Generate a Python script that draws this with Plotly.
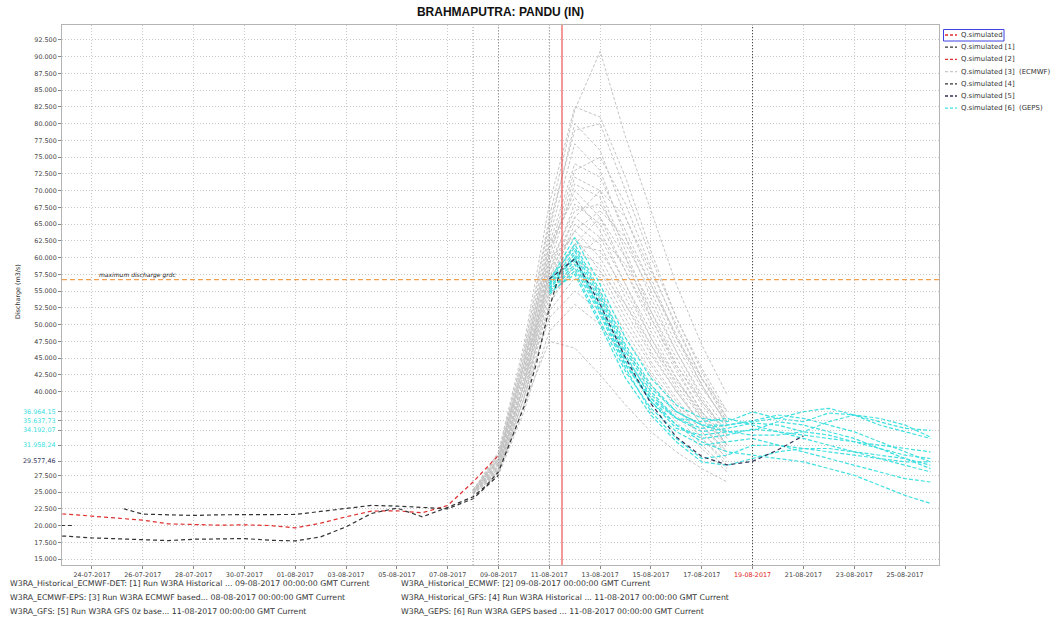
import pandas as pd
import plotly.graph_objects as go

TITLE = "BRAHMAPUTRA: PANDU (IN)"
Y_TITLE = "Discharge (m3/s)"
MAX_LABEL = "maximum discharge grdc"
MAX_DISCHARGE = 56700

# ---- historical runs -------------------------------------------------------
hist2_dates = pd.date_range("2017-07-22", "2017-08-09", freq="D")
hist2_values = [21800, 21700, 21400, 21100, 20800, 20250, 20100, 20050, 20100, 20000,
                19650, 20350, 21300, 22150, 22200, 21900, 23000, 26500, 30500]

hist1_dates = ["2017-07-22 12:00", "2017-07-23 06:00", "2017-07-24 06:00", "2017-07-25 06:00"] + \
    [d.strftime("%Y-%m-%d") for d in pd.date_range("2017-07-26", "2017-08-09", freq="D")]
hist1_values = [20000, 20000, None, 22500,
                21700, 21600, 21500, 21600, 21600, 21650, 21650, 22100, 22600, 23000,
                22900, 22700, 22500, 24000, 27500]

hist4_dates = [d.strftime("%Y-%m-%d") for d in pd.date_range("2017-07-22", "2017-08-08", freq="D")] + \
    ["2017-08-08 12:00", "2017-08-09 00:00", "2017-08-09 12:00", "2017-08-10 00:00",
     "2017-08-10 12:00", "2017-08-11 00:00", "2017-08-11 12:00"]
hist4_values = [18500, 18400, 18150, 18000, 17800, 17750, 17950, 18000, 18050, 17800,
                17700, 18300, 19800, 21800, 22600, 21300, 22700, 24300,
                25900, 28000, 32800, 37700, 44300, 52500, 58800]

# ---- GFS deterministic forecast [5] ---------------------------------------
gfs_dates = pd.date_range("2017-08-11", "2017-08-21", freq="D")
gfs_values = [56800, 59800, 53000, 45000, 38200, 33200, 30300, 29050, 29577.46, 31300, 33400]

# ---- ECMWF ensemble [3] ----------------------------------------------------
eps_dates = pd.date_range("2017-08-08", "2017-08-18", freq="D")
eps_members = [
    [25000, 30500, 46000, 66000, 82000, 90800, 78000, 67000, 56000, 47000, 39500],
    [25200, 31000, 47000, 68000, 82500, 81000, 72000, 61000, 51000, 43000, 36000],
    [24800, 30000, 45000, 64000, 80000, 76000, 66000, 57000, 48000, 41000, 35000],
    [25100, 29500, 44000, 63000, 77000, 73000, 63000, 54000, 46000, 39000, 33500],
    [25300, 30000, 45000, 62000, 74000, 72000, 64000, 56000, 48000, 42000, 37000],
    [24900, 29000, 42000, 60000, 72000, 70000, 61000, 52000, 44000, 38000, 33000],
    [25000, 29500, 43000, 61000, 70000, 66000, 58000, 50000, 43000, 37000, 32000],
    [25200, 30000, 44000, 62000, 69000, 64000, 56000, 48000, 41000, 36000, 31500],
    [24700, 28500, 41000, 58000, 68000, 65000, 58000, 51000, 44000, 38500, 34000],
    [25000, 29000, 42000, 59000, 67000, 68000, 62000, 55000, 47000, 40500, 35500],
    [25100, 28800, 41000, 57000, 66000, 63000, 56000, 49000, 42000, 36500, 32000],
    [24800, 28200, 40000, 56000, 65000, 62000, 54000, 47000, 40500, 35000, 31000],
    [25000, 29300, 42000, 58000, 64000, 60000, 53000, 46000, 40000, 35000, 30500],
    [25400, 30200, 44000, 60000, 63000, 58000, 51000, 44500, 39000, 34000, 30000],
    [24600, 28000, 39000, 55000, 62000, 61000, 55000, 48000, 42000, 36000, 32000],
    [25000, 28600, 40000, 54000, 61000, 59000, 52000, 45500, 40000, 35000, 31000],
    [25200, 29000, 41000, 56000, 60000, 57000, 50000, 44000, 38500, 34000, 30000],
    [24900, 28400, 40000, 53000, 59000, 58000, 53000, 47000, 41500, 37000, 33000],
    [25100, 28900, 41000, 55000, 58000, 55000, 49000, 43000, 38000, 33000, 29500],
    [24700, 27800, 38000, 52000, 57000, 54000, 48000, 42500, 37500, 33000, 29000],
    [25000, 28100, 39000, 51000, 55000, 52000, 46000, 41000, 36500, 32000, 28500],
    [24800, 27500, 37000, 49000, 53000, 50000, 45000, 40000, 35500, 31500, 28000],
    [25300, 29700, 43000, 57000, 62000, 66000, 60000, 53000, 46000, 39500, 34500],
    [25000, 29100, 42000, 58000, 66000, 70000, 66000, 58000, 50000, 42000, 36000],
    [24900, 28000, 38000, 47500, 46500, 42500, 38000, 34000, 31000, 28500, 26500],
    [25100, 29400, 43000, 59000, 71000, 69000, 60000, 51000, 43500, 37000, 32000],
    [25200, 30600, 46000, 65000, 79000, 80000, 70000, 60000, 51000, 43500, 37000],
    [24800, 28700, 41000, 57000, 64000, 67000, 63000, 56000, 48500, 41000, 35000],
    [25000, 29800, 44000, 61000, 73000, 75000, 68000, 58500, 49500, 42000, 35500],
    [25100, 28300, 39000, 53000, 60000, 63000, 59000, 52000, 45000, 38500, 33500],
]

# ---- GEPS ensemble [6] -----------------------------------------------------
geps_dates = pd.date_range("2017-08-11", "2017-08-26", freq="D")
geps_members = [
    [56500, 63000, 56000, 48000, 42000, 38000, 36000, 35500, 36964.15, 36000, 35500, 36800, 36500, 35500, 34500, 34200],
    [56000, 61000, 54000, 46000, 40000, 36000, 34000, 34500, 35300, 35000, 34000, 33500, 32500, 31500, 30500, 30000],
    [55500, 60000, 53000, 45000, 39500, 36000, 34500, 35000, 35637.73, 36500, 36000, 35000, 34000, 32500, 31000, 29500],
    [55000, 59000, 52000, 44000, 38500, 35000, 33000, 33500, 34400, 34000, 33000, 32000, 31000, 30000, 29000, 28000],
    [56200, 62000, 55000, 47000, 41000, 37000, 35000, 34000, 33500, 33500, 34000, 35500, 36500, 36000, 35000, 33200],
    [54500, 58000, 50500, 43000, 37500, 34000, 32000, 32500, 33000, 32000, 31000, 30000, 29000, 28000, 27000, 26500],
    [55800, 60500, 53500, 45500, 39000, 35000, 32500, 31000, 30500, 30000, 29500, 28500, 27500, 26000, 24500, 23300],
    [55000, 58500, 51500, 43500, 37000, 33000, 30000, 30500, 31958.24, 32000, 31500, 31000, 30500, 30000, 29500, 29500],
    [56800, 61500, 54500, 46500, 40500, 37000, 35000, 35000, 35500, 36000, 37000, 37500, 36500, 35000, 34000, 33000],
    [55300, 59500, 52500, 44500, 38500, 34500, 33500, 34000, 34192.07, 35500, 35000, 34000, 33000, 31500, 30000, 28500],
    [54800, 57500, 50000, 42000, 36500, 32500, 29500, 29000, 30000, 31000, 31500, 31500, 31000, 30500, 30000, 29000],
    [56000, 60000, 52000, 44000, 39000, 36000, 35500, 36000, 35000, 34000, 33500, 33000, 32500, 32000, 31500, 31000],
]
# indices of GEPS members whose 19-08 value is labelled at the axis
geps_labelled = [0, 2, 9, 7]

# ---- reference times ------------------------------------------------------
NOW = "2017-08-11 12:00"
CURSOR = "2017-08-19"
RUN_T0S = ["2017-08-08", "2017-08-09", "2017-08-11"]
CURSOR_INDEX_GEPS = 8
CURSOR_INDEX_GFS = 8

legend_labels = ["Q.simulated", "Q.simulated [1]", "Q.simulated [2]", "Q.simulated [3]  (ECMWF)",
                 "Q.simulated [4]", "Q.simulated [5]", "Q.simulated [6]  (GEPS)"]
legend_colors = ["#e03030", "#333333", "#e03030", "#c8c8c8", "#333333", "#33335a", "#40e0e0"]

footer_left = [
    "W3RA_Historical_ECMWF-DET: [1] Run W3RA Historical ... 09-08-2017 00:00:00 GMT Current",
    "W3RA_ECMWF-EPS: [3] Run W3RA ECMWF based... 08-08-2017 00:00:00 GMT Current",
    "W3RA_GFS: [5] Run W3RA GFS 0z base... 11-08-2017 00:00:00 GMT Current",
]
footer_right = [
    "W3RA_Historical_ECMWF: [2] 09-08-2017 00:00:00 GMT Current",
    "W3RA_Historical_GFS: [4] Run W3RA Historical ... 11-08-2017 00:00:00 GMT Current",
    "W3RA_GEPS: [6] Run W3RA GEPS based ... 11-08-2017 00:00:00 GMT Current",
]

GRAY = "#c4c4c4"
CYAN = "#40e0e0"
RED = "#e03030"
BLACK = "#333333"
NAVY = "#33335a"
FONT = "DejaVu Sans"

fig = go.Figure()
for m in eps_members:
    fig.add_trace(go.Scatter(x=eps_dates, y=m, mode="lines", hoverinfo="skip",
                             line=dict(color=GRAY, width=1, dash="3px,2px"), showlegend=False))
for m in geps_members:
    fig.add_trace(go.Scatter(x=geps_dates, y=m, mode="lines", hoverinfo="skip",
                             line=dict(color=CYAN, width=1.2, dash="4px,2px"), showlegend=False))
fig.add_trace(go.Scatter(x=hist2_dates, y=hist2_values, mode="lines", hoverinfo="skip",
                         line=dict(color=RED, width=1.2, dash="4px,3px"), showlegend=False))
fig.add_trace(go.Scatter(x=hist1_dates, y=hist1_values, mode="lines", hoverinfo="skip", connectgaps=False,
                         line=dict(color=BLACK, width=1.2, dash="4px,3px"), showlegend=False))
fig.add_trace(go.Scatter(x=hist4_dates, y=hist4_values, mode="lines", hoverinfo="skip",
                         line=dict(color=BLACK, width=1.2, dash="4px,3px"), showlegend=False))
fig.add_trace(go.Scatter(x=gfs_dates, y=gfs_values, mode="lines", hoverinfo="skip",
                         line=dict(color=NAVY, width=1.2, dash="4px,3px"), showlegend=False))

# ---- axis ticks -----------------------------------------------------------
cursor_labels = [(geps_members[i][CURSOR_INDEX_GEPS], CYAN) for i in geps_labelled] + \
                [(gfs_values[CURSOR_INDEX_GFS], NAVY)]


def fmt_int(v):
    return f"{v:,.0f}".replace(",", ".")


def fmt_dec(v):
    return f"{v:,.2f}".replace(",", "#").replace(".", ",").replace("#", ".")


base_ticks = list(range(15000, 92501, 2500))
kept = [t for t in base_ticks if all(abs(t - v) > 1000 for v, _ in cursor_labels)]
y_tickvals = kept + [v for v, _ in cursor_labels]
y_ticktext = [fmt_int(t) for t in kept] + ["" for _ in cursor_labels]

x_ticks = pd.date_range("2017-07-24", "2017-08-25", freq="2D")
x_ticktext = []
for d in x_ticks:
    s = d.strftime("%d-%m-%Y")
    if d == pd.Timestamp(CURSOR):
        s = "<span style='color:#e02020'>" + s + "</span>"
    x_ticktext.append(s)

L, R, T, B = 62, 115, 25, 52
W, H = 1054, 617
PW, PH = W - L - R, H - T - B


def px(x):
    return (x - L) / PW


def py(y):
    return (H - B - y) / PH


shapes = []
for t0 in RUN_T0S:
    shapes.append(dict(type="line", xref="x", yref="paper", x0=t0, x1=t0, y0=0, y1=1,
                       line=dict(color="#9a9a9a", width=1, dash="1px,2px")))
shapes.append(dict(type="line", xref="x", yref="paper", x0=CURSOR, x1=CURSOR, y0=0, y1=1,
                   line=dict(color="#444444", width=1, dash="1px,2px")))
shapes.append(dict(type="line", xref="x", yref="paper", x0=NOW, x1=NOW, y0=0, y1=1,
                   line=dict(color="#e83030", width=1)))
shapes.append(dict(type="line", xref="paper", yref="y", x0=0, x1=1, y0=MAX_DISCHARGE, y1=MAX_DISCHARGE,
                   line=dict(color="#f0a050", width=1.3, dash="5px,3px")))

annotations = []
for v, c in cursor_labels:
    annotations.append(dict(xref="paper", yref="y", x=0, y=v, text=fmt_dec(v), showarrow=False,
                            xanchor="right", yanchor="middle", xshift=-4,
                            font=dict(family=FONT, size=6.4, color=c)))
annotations.append(dict(xref="x", yref="y", x="2017-07-24 05:00", y=MAX_DISCHARGE, text="<i>" + MAX_LABEL + "</i>",
                        showarrow=False, xanchor="left", yanchor="bottom", yshift=-1,
                        font=dict(family=FONT, size=6, color="#222222")))
annotations.append(dict(xref="paper", yref="paper", x=px(18), y=py(292), text=Y_TITLE, textangle=-90,
                        showarrow=False, xanchor="center", yanchor="middle",
                        font=dict(family=FONT, size=6.4, color="#333333")))

# legend (manual)
row0 = 35
for i, (lab, col) in enumerate(zip(legend_labels, legend_colors)):
    yy = row0 + i * 12.2
    shapes.append(dict(type="line", xref="paper", yref="paper", x0=px(945), x1=px(957),
                       y0=py(yy), y1=py(yy), line=dict(color=col, width=1.3, dash="3px,2px")))
    annotations.append(dict(xref="paper", yref="paper", x=px(959), y=py(yy), text=lab, showarrow=False,
                            xanchor="left", yanchor="middle",
                            font=dict(family=FONT, size=6.9, color="#333333")))
shapes.append(dict(type="rect", xref="paper", yref="paper", x0=px(943.5), x1=px(1004), y0=py(29.5), y1=py(41),
                   line=dict(color="#4040e0", width=1)))

for i, (a, b) in enumerate(zip(footer_left, footer_right)):
    yy = 583 + i * 14
    annotations.append(dict(xref="paper", yref="paper", x=px(8), y=py(yy), text=a, showarrow=False,
                            xanchor="left", yanchor="middle",
                            font=dict(family=FONT, size=7.8, color="#333333")))
    annotations.append(dict(xref="paper", yref="paper", x=px(399), y=py(yy), text=b, showarrow=False,
                            xanchor="left", yanchor="middle",
                            font=dict(family=FONT, size=7.8, color="#333333")))

axis_common = dict(showgrid=True, gridcolor="#c8c8c8", griddash="1px,2px", gridwidth=1,
                   ticks="outside", ticklen=3, tickcolor="#888888", showline=True,
                   linecolor="#b4b4b4", linewidth=1, mirror=True, zeroline=False,
                   tickfont=dict(family=FONT, size=6.4, color="#444444"))

fig.update_layout(
    width=W, height=H, autosize=False,
    margin=dict(l=L, r=R, t=T, b=B, pad=0),
    paper_bgcolor="white", plot_bgcolor="white",
    title=dict(text="<b>" + TITLE + "</b>", x=0.5, xref="paper", y=1 - 12 / H, yanchor="middle",
               font=dict(family="Liberation Sans", size=12, color="#111111")),
    xaxis=dict(type="date", range=["2017-07-22 19:40", "2017-08-26 08:07"],
               tickvals=list(x_ticks), ticktext=x_ticktext, **axis_common),
    yaxis=dict(range=[14104, 94728], tickvals=y_tickvals, ticktext=y_ticktext, **axis_common),
    shapes=shapes, annotations=annotations, showlegend=False,
)

fig.write_html("out.html", config={"displayModeBar": False},
               post_script="document.body.style.margin='0';")
